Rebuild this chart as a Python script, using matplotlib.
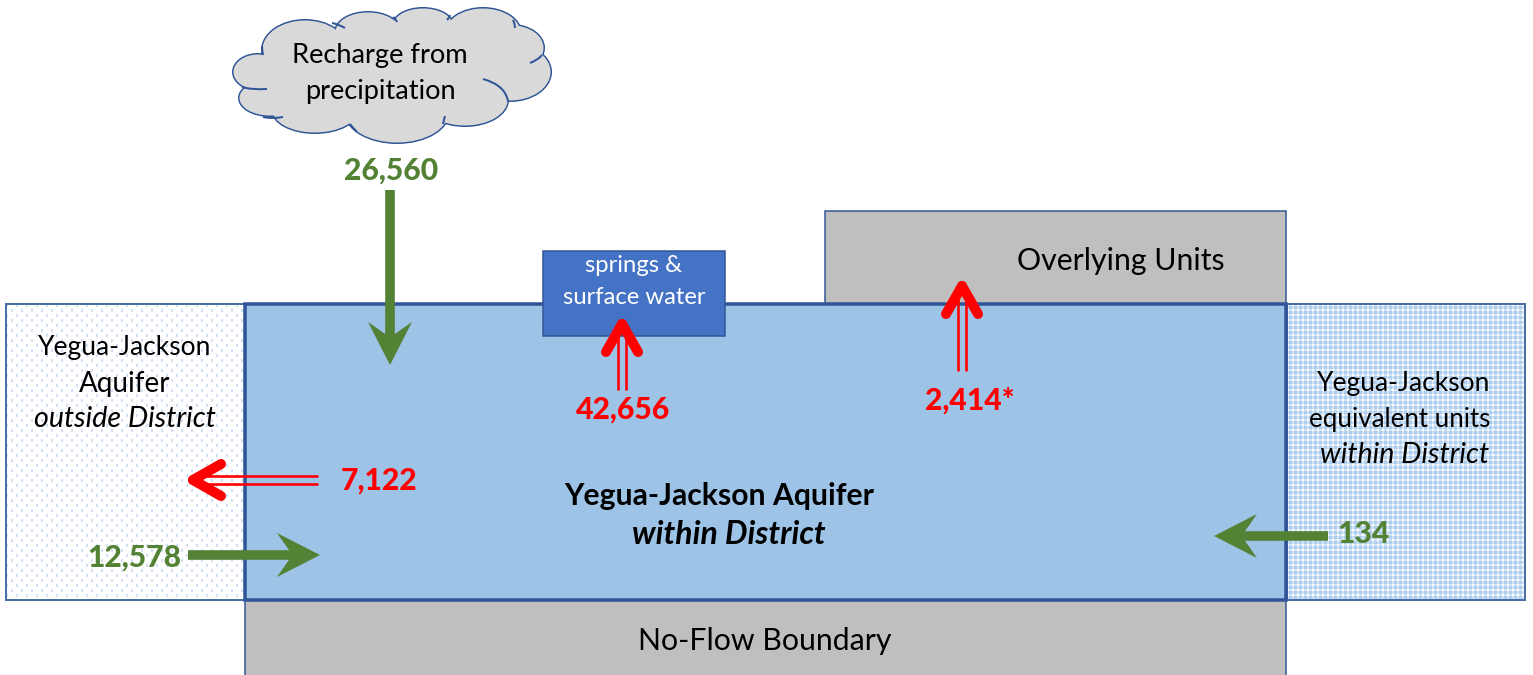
import numpy as np
import matplotlib
matplotlib.use('Agg')
import matplotlib.pyplot as plt
from matplotlib.patches import Rectangle, Ellipse, Polygon, PathPatch
from matplotlib.path import Path

plt.rcParams['font.family'] = ['Lato', 'DejaVu Sans']

# flow values shown on the diagram
inflow_labels = ['26,560', '12,578', '134']
outflow_labels = ['42,656', '2,414*', '7,122']

GREEN = '#548235'
RED = '#FF0000'
EDGE = '#2F5597'
GRAY = '#BFBFBF'
CLOUD = '#D9D9D9'

PX = 0.72  # pixels to points at dpi 100

fig = plt.figure(figsize=(15.33, 6.75), dpi=100)
ax = fig.add_axes([0, 0, 1, 1])


def box(x0, y0, x1, y1, fc, lw=1.5, ec=EDGE, z=1):
    ax.add_patch(Rectangle((x0, y0), x1 - x0, y1 - y0, fc=fc, ec=ec, lw=lw * PX, zorder=z))


def textured(x0, y0, x1, y1, tex):
    ax.imshow(tex, extent=(x0, x1, y1, y0), interpolation='nearest', aspect='auto', zorder=1)
    ax.add_patch(Rectangle((x0, y0), x1 - x0, y1 - y0, fc='none', ec='#4A6FA5', lw=2 * PX, zorder=1.5))


def dot_texture(w, h):
    # white with staggered pale blue spots
    yy, xx = np.indices((h, w))
    tex = np.ones((h, w, 3))
    a = (xx % 10 < 2) & (yy % 10 < 3)
    b = ((xx + 5) % 10 < 2) & ((yy + 5) % 10 < 3)
    tex[a | b] = np.array([0xD3, 0xDF, 0xF2]) / 255
    return tex


def grid_texture(w, h):
    # blue weave with white gaps
    yy, xx = np.indices((h, w))
    gx = xx % 5 < 2
    gy = yy % 5 < 2
    tex = np.zeros((h, w, 3))
    tex[:] = np.array([0xAE, 0xCE, 0xEE]) / 255
    tex[gx ^ gy] = np.array([0xD2, 0xE3, 0xF5]) / 255
    tex[gx & gy] = (1, 1, 1)
    return tex


def green_arrow(x0, y0, x1, y1):
    # solid shaft with a notched head
    dx, dy = x1 - x0, y1 - y0
    n = (dx ** 2 + dy ** 2) ** 0.5
    ux, uy = dx / n, dy / n
    px, py = -uy, ux
    hw, hl, notch, sw = 22, 43, 31, 4.8

    def at(a, b):
        return (x1 - ux * a + px * b, y1 - uy * a + py * b)

    tail = ((x0 + px * sw, y0 + py * sw), (x0 - px * sw, y0 - py * sw))
    pts = [tail[0], at(notch, sw), at(hl, hw), (x1, y1), at(hl, -hw), at(notch, -sw), tail[1]]
    ax.add_patch(Polygon(pts, closed=True, fc=GREEN, ec='none', zorder=5))


def red_arrow(x0, y0, x1, y1):
    # double line shaft with a rounded open head
    dx, dy = x1 - x0, y1 - y0
    n = (dx ** 2 + dy ** 2) ** 0.5
    ux, uy = dx / n, dy / n
    px, py = -uy, ux
    for s in (-3.8, 3.8):
        ax.plot([x0 + px * s, x1 - ux * 12 + px * s], [y0 + py * s, y1 - uy * 12 + py * s],
                color=RED, lw=2.6 * PX, solid_capstyle='butt', zorder=5)
    tip = (x1 - ux * 6, y1 - uy * 6)
    for s in (-16, 16):
        ax.plot([tip[0], x1 - ux * 34 + px * s], [tip[1], y1 - uy * 34 + py * s],
                color=RED, lw=10 * PX, solid_capstyle='round', zorder=5)


# side blocks
textured(6, 304, 245, 600, dot_texture(239, 296))
textured(1287, 304, 1525, 600, grid_texture(238, 296))

ax.set_xlim(0, 1533)
ax.set_ylim(675, 0)
ax.axis('off')

# grey units
box(825, 211, 1286, 304, GRAY)
box(245, 600, 1286, 680, GRAY)

# main aquifer
box(245, 304, 1286, 600, '#9DC3E6', lw=3.5, z=2)
box(543, 251, 725, 336, '#4472C4', lw=1.5, z=3)

# cloud: lobes with outline, then the same lobes without outline on top
lobes = [(258, 72, 50, 36), (270, 98, 62, 36), (305, 50, 86, 60), (368, 32, 66, 40),
         (423, 25, 60, 34), (483, 33, 76, 50), (512, 48, 64, 46), (510, 72, 82, 58),
         (465, 100, 86, 52), (397, 112, 104, 62), (315, 110, 86, 46)]
for x, y, w, h in lobes:
    ax.add_patch(Ellipse((x, y), w, h, fc=CLOUD, ec=EDGE, lw=2 * PX, zorder=2))
for x, y, w, h in lobes:
    ax.add_patch(Ellipse((x, y), w - 1, h - 1, fc=CLOUD, ec='none', zorder=3))
ax.add_patch(Ellipse((390, 70), 250, 85, fc=CLOUD, ec='none', zorder=3))

inner_arcs = [((242, 87), (252, 90), (267, 89)),
              ((283, 117), (272, 119), (263, 117)),
              ((345, 28), (338, 24), (332, 23)),
              ((397, 22), (396, 19), (393, 17)),
              ((450, 15), (449, 18), (447, 20)),
              ((515, 28), (515, 24), (513, 20)),
              ((530, 63), (538, 60), (542, 55)),
              ((483, 79), (505, 85), (508, 101)),
              ((445, 116), (444, 120), (443, 124)),
              ((350, 124), (353, 128), (357, 132)),
              ((263, 55), (262, 50), (262, 46))]
for a, b, c in inner_arcs:
    ax.add_patch(PathPatch(Path([a, b, c], [Path.MOVETO, Path.CURVE3, Path.CURVE3]),
                           fc='none', ec=EDGE, lw=2 * PX, zorder=4))

# arrows
green_arrow(390, 190, 390, 365)
green_arrow(188, 555, 320, 555)
green_arrow(1328, 536, 1214, 536)
red_arrow(622, 390, 622, 318)
red_arrow(962, 371, 962, 280)
red_arrow(318, 480, 187, 480)


def label(x, y, s, size=19, **kw):
    kw.setdefault('color', 'black')
    ax.text(x, y, s, fontsize=size, ha='center', va='center', zorder=6, **kw)


# flow labels
for (x, y), s in zip([(391, 171), (134, 558), (1363, 534)], inflow_labels):
    label(x, y, s, size=21.7, color=GREEN, fontweight='black')
for (x, y), s in zip([(623, 410), (970, 401), (379, 481)], outflow_labels):
    label(x, y, s, size=21.7, color=RED, fontweight='black')

# block labels
label(380, 56, 'Recharge from', size=19.6)
label(380, 92, 'precipitation', size=19.6)
label(634, 265, 'springs &', size=17.2, color='white')
label(634, 297, 'surface water', size=17.2, color='white')
label(1121, 261, 'Overlying Units', size=21.8)
label(765, 641, 'No-Flow Boundary', size=21.8)
label(125, 348, 'Yegua-Jackson')
label(125, 384, 'Aquifer', size=20)
label(125, 419, 'outside District', size=20.6, style='italic')
label(1404, 384, 'Yegua-Jackson')
label(1400, 419, 'equivalent units', size=18.6)
label(1405, 455, 'within District', size=20.6, style='italic')
label(719, 496, 'Yegua-Jackson Aquifer', size=21.7, fontweight='bold')
label(729, 535, 'within District', size=23, fontweight='bold', style='italic')

fig.savefig('out.png', dpi=100)
